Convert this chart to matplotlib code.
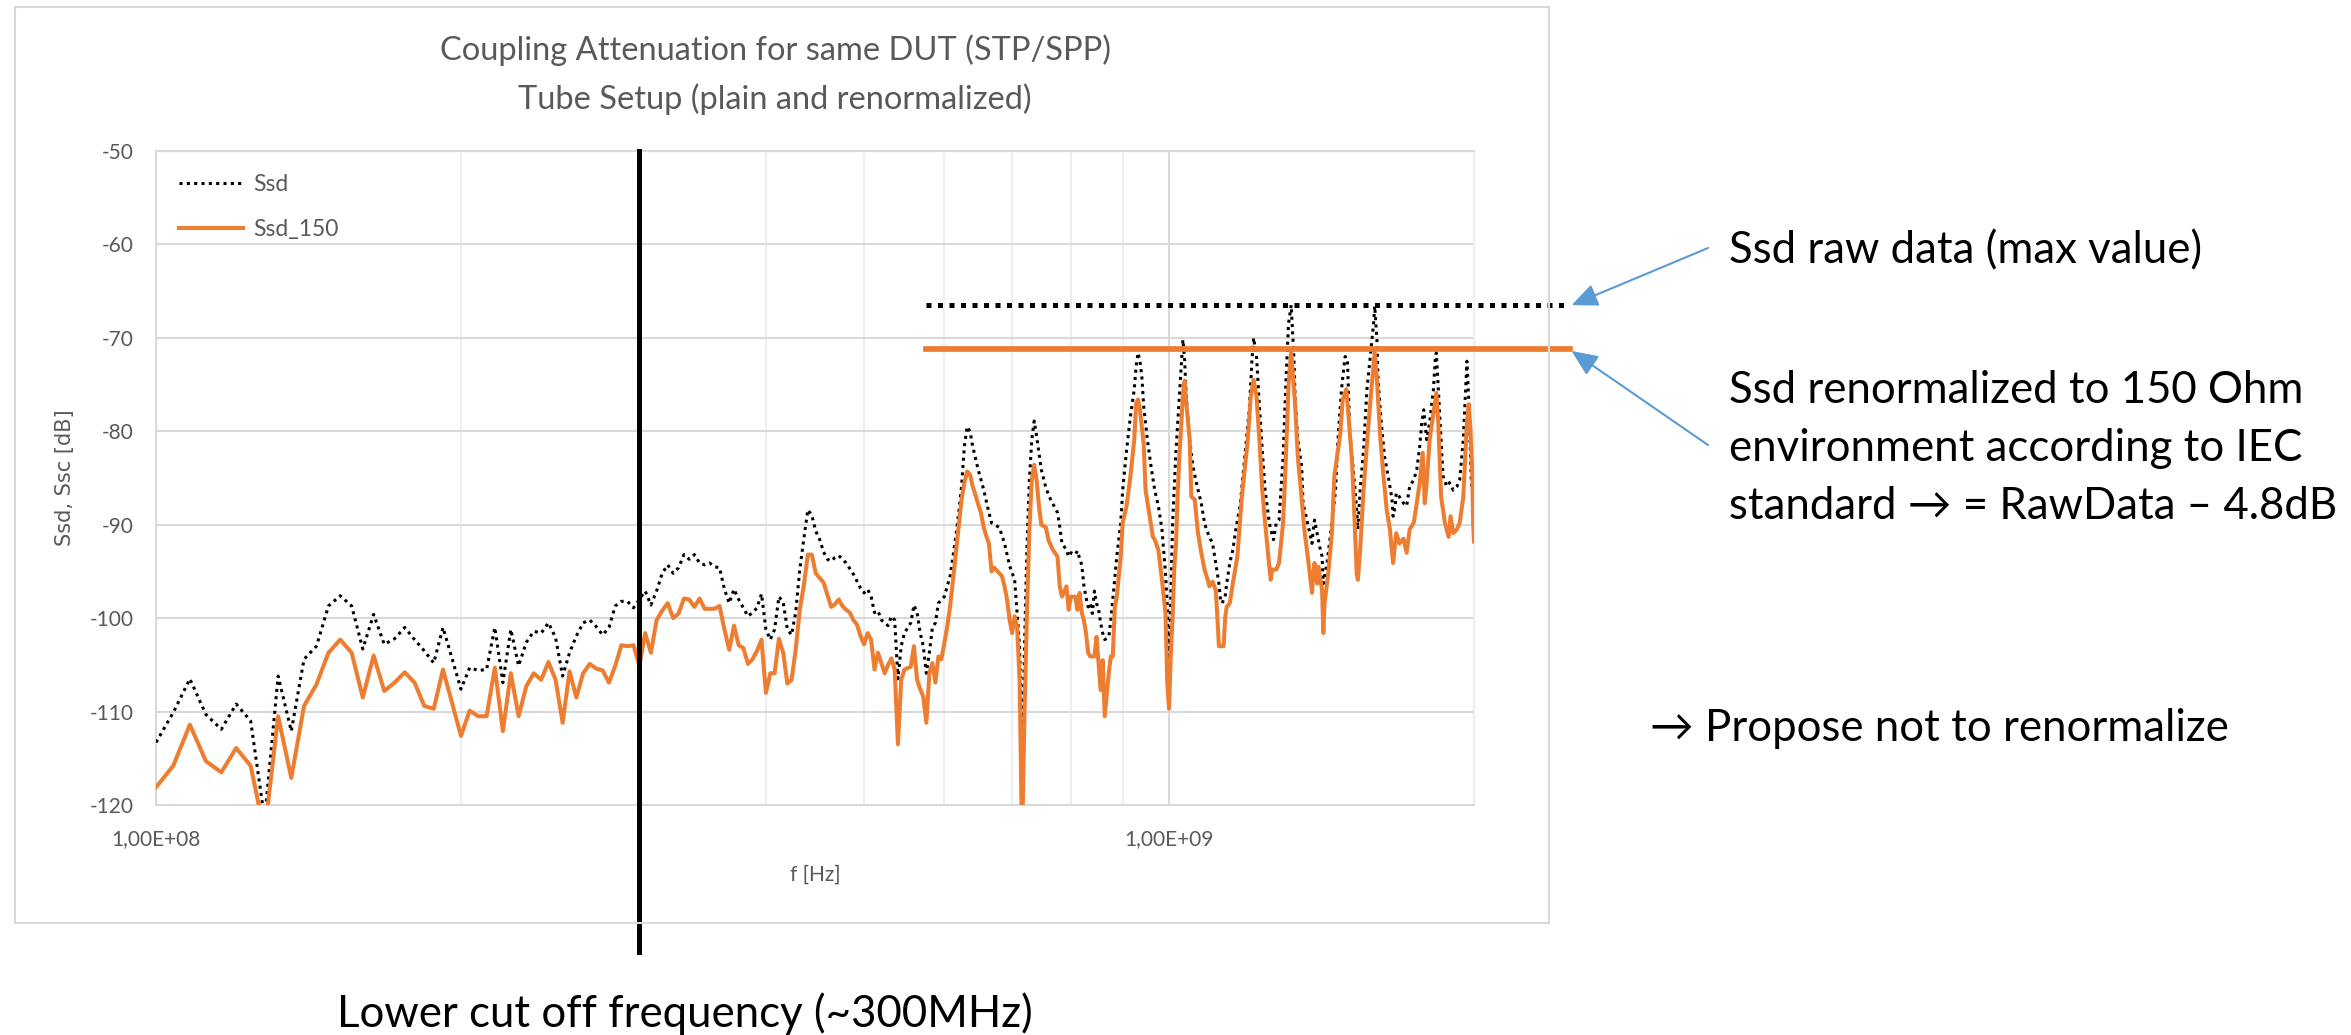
import numpy as np
import matplotlib
matplotlib.use('Agg')
import matplotlib.pyplot as plt
from matplotlib.patches import Rectangle

plt.rcParams['font.family'] = ['Lato', 'DejaVu Sans']
plt.rcParams['axes.unicode_minus'] = False

# частоты в МГц (шаг анализатора 4 МГц), значения в дБ
f_ssd = [100, 104, 108, 112, 116, 120, 124, 128, 132, 136, 140, 144, 148, 152, 156, 160, 164, 168, 172, 176,
         180, 184, 188, 192, 200, 204, 208, 212, 216, 220, 224, 228, 232, 236, 240, 244, 248, 252, 256, 260,
         264, 268, 272, 276, 280, 284, 288, 292, 296, 300, 304, 308, 312, 316, 320, 324, 328, 332, 336, 340,
         344, 348, 352, 356, 360, 364, 368, 372, 376, 380, 384, 388, 392, 396, 400, 404, 408, 412, 416, 420,
         424, 428, 432, 436, 440, 444, 448, 452, 456, 460, 464, 468, 472, 480, 488, 496, 500, 504, 508, 512,
         516, 520, 528, 532, 536, 540, 544, 548, 556, 560, 564, 568, 572, 576, 580, 584, 588, 592, 600, 608,
         612, 616, 620, 624, 628, 632, 636, 640, 648, 656, 664, 668, 680, 688, 696, 704, 708, 712, 716, 720,
         724, 728, 732, 736, 740, 748, 756, 764, 776, 780, 784, 792, 796, 800, 808, 812, 816, 820, 824, 828,
         832, 836, 840, 844, 848, 852, 856, 860, 864, 872, 876, 880, 888, 896, 900, 908, 916, 924, 928, 932,
         936, 940, 944, 952, 960, 968, 976, 984, 992, 996, 1000, 1004, 1008, 1016, 1024, 1032, 1036, 1040, 1048, 1056,
         1064, 1076, 1084, 1088, 1096, 1104, 1112, 1120, 1124, 1128, 1136, 1140, 1148, 1156, 1164, 1176, 1188, 1200, 1208, 1212,
         1220, 1228, 1236, 1244, 1256, 1260, 1268, 1276, 1284, 1296, 1304, 1312, 1320, 1328, 1332, 1340, 1352, 1356, 1368, 1384,
         1388, 1392, 1408, 1416, 1420, 1432, 1448, 1460, 1468, 1480, 1492, 1500, 1508, 1520, 1532, 1536, 1544, 1556, 1568, 1580,
         1592, 1596, 1604, 1608, 1620, 1632, 1648, 1660, 1664, 1672, 1676, 1688, 1704, 1716, 1728, 1744, 1756, 1768, 1776, 1784,
         1796, 1808, 1824, 1832, 1836, 1852, 1864, 1880, 1892, 1908, 1924, 1936, 1952, 1968, 1976, 1988, 2000]
ssd = [-113.3, -110.1, -106.5, -110.3, -111.9, -109.2, -111.0, -121.5, -106.2, -112.1, -104.4, -103.0, -98.7, -97.6, -98.7, -103.3, -99.6, -102.8, -102.2, -101.0,
       -102.3, -103.5, -104.8, -101.0, -107.6, -105.3, -105.6, -105.5, -101.0, -106.9, -101.2, -105.1, -102.6, -101.4, -101.6, -100.5, -102.1, -106.2, -103.7, -101.9,
       -100.5, -100.2, -100.9, -101.8, -101.0, -98.7, -98.2, -98.2, -98.9, -98.0, -97.1, -98.6, -97.1, -95.2, -94.3, -95.2, -94.6, -93.2, -93.7, -93.2,
       -94.1, -94.3, -94.1, -94.5, -94.6, -96.9, -98.4, -96.9, -98.0, -98.9, -99.8, -99.4, -98.9, -97.4, -101.2, -102.3, -101.2, -97.7, -98.3, -101.2,
       -101.8, -99.4, -94.8, -91.5, -88.4, -89.0, -90.7, -91.6, -92.9, -93.7, -93.9, -93.5, -93.3, -94.1, -95.3, -96.8, -97.3, -96.9, -97.7, -99.4,
       -99.2, -100.2, -100.8, -99.8, -100.2, -106.5, -103.0, -101.6, -100.5, -98.6, -99.4, -101.6, -103.0, -105.9, -103.7, -101.0, -100.5, -98.4, -97.7, -95.5,
       -93.4, -91.2, -88.7, -85.9, -81.6, -79.5, -80.0, -81.6, -84.1, -86.2, -88.7, -89.8, -90.3, -92.0, -94.4, -95.9, -99.4, -103.0, -115.0, -103.0,
       -92.3, -85.2, -80.9, -78.9, -80.5, -84.1, -86.1, -87.3, -88.7, -90.2, -92.0, -92.7, -93.4, -93.0, -93.2, -92.8, -93.6, -94.3, -96.5, -97.8,
       -98.8, -98.4, -99.5, -97.1, -98.4, -99.1, -100.5, -101.6, -102.3, -102.0, -100.2, -98.0, -93.4, -89.8, -86.3, -82.0, -78.4, -75.5, -73.0, -71.6,
       -72.5, -74.1, -77.3, -80.9, -83.8, -86.3, -88.0, -90.5, -95.2, -98.8, -106.0, -98.0, -90.0, -82.0, -76.0, -70.2, -72.3, -76.3, -80.9, -83.8,
       -85.5, -87.7, -89.8, -90.4, -91.3, -92.0, -94.1, -96.3, -98.0, -98.4, -97.7, -96.3, -94.1, -92.7, -90.5, -87.7, -82.7, -77.7, -72.0, -70.0,
       -72.0, -77.3, -82.0, -86.3, -89.8, -90.5, -91.6, -89.8, -89.5, -82.7, -75.0, -68.5, -66.5, -72.0, -76.6, -80.9, -83.8, -87.7, -89.5, -92.0,
       -90.5, -89.5, -92.3, -93.4, -96.3, -94.1, -89.8, -86.3, -80.9, -75.5, -72.0, -72.3, -80.2, -84.1, -88.4, -90.5, -86.3, -82.0, -75.5, -72.0,
       -68.4, -66.6, -70.2, -74.5, -79.1, -82.7, -85.2, -87.3, -89.1, -88.0, -86.6, -87.0, -87.7, -88.0, -85.9, -85.2, -84.1, -81.6, -79.1, -77.7,
       -80.9, -79.1, -75.5, -72.0, -71.6, -79.1, -84.8, -85.9, -85.5, -86.3, -85.9, -85.2, -80.9, -72.5, -76.5, -85.5, -87.3]

f_150 = [100, 104, 108, 112, 116, 120, 124, 128, 132, 136, 140, 144, 148, 152, 156, 160, 164, 168, 172, 176,
         180, 184, 188, 192, 200, 204, 208, 212, 216, 220, 224, 228, 232, 236, 240, 244, 248, 252, 256, 260,
         264, 268, 272, 276, 280, 284, 288, 292, 296, 300, 304, 308, 312, 316, 320, 324, 328, 332, 336, 340,
         344, 348, 356, 360, 364, 368, 372, 376, 380, 384, 388, 392, 396, 400, 404, 408, 412, 416, 420, 424,
         428, 432, 436, 440, 444, 448, 452, 456, 460, 464, 468, 472, 476, 480, 484, 488, 492, 496, 500, 504,
         508, 512, 516, 520, 524, 528, 532, 536, 540, 544, 548, 556, 560, 564, 568, 572, 576, 580, 584, 588,
         592, 596, 600, 604, 608, 612, 616, 620, 624, 628, 632, 636, 640, 644, 648, 652, 656, 660, 664, 668,
         672, 680, 684, 688, 692, 696, 700, 704, 708, 712, 716, 720, 724, 728, 732, 736, 740, 744, 748, 756,
         760, 768, 776, 780, 784, 792, 796, 800, 808, 812, 816, 820, 824, 828, 832, 836, 844, 848, 856, 860,
         864, 872, 876, 880, 884, 888, 896, 900, 908, 916, 924, 928, 932, 936, 944, 948, 956, 964, 968, 976,
         984, 992, 996, 1000, 1004, 1008, 1012, 1016, 1020, 1024, 1028, 1032, 1036, 1040, 1048, 1052, 1060, 1068, 1076, 1084,
         1092, 1096, 1104, 1112, 1116, 1120, 1132, 1136, 1140, 1148, 1156, 1168, 1180, 1196, 1204, 1212, 1220, 1228, 1236, 1244,
         1256, 1260, 1264, 1276, 1284, 1296, 1304, 1312, 1320, 1332, 1340, 1352, 1360, 1372, 1384, 1388, 1392, 1400, 1404, 1416,
         1420, 1424, 1436, 1448, 1456, 1476, 1484, 1496, 1504, 1516, 1524, 1532, 1536, 1544, 1556, 1572, 1584, 1596, 1604, 1616,
         1628, 1640, 1652, 1664, 1676, 1688, 1704, 1716, 1728, 1744, 1756, 1768, 1780, 1788, 1796, 1808, 1824, 1836, 1844, 1856,
         1872, 1888, 1896, 1908, 1924, 1936, 1952, 1968, 1976, 1984, 1992, 1996, 2000]
ssd_150 = [-118.1, -115.8, -111.4, -115.3, -116.5, -113.9, -115.8, -123.0, -110.5, -117.1, -109.4, -107.1, -103.7, -102.3, -103.7, -108.5, -104.0, -107.8, -106.9, -105.8,
           -106.9, -109.4, -109.7, -105.5, -112.6, -109.9, -110.5, -110.5, -105.3, -112.1, -105.9, -110.5, -107.3, -105.9, -106.6, -104.7, -106.6, -111.2, -105.7, -108.5,
           -105.9, -104.9, -105.4, -105.6, -106.9, -105.1, -102.9, -103.0, -102.9, -105.1, -101.6, -103.7, -100.2, -99.2, -98.4, -100.0, -99.5, -97.9, -98.0, -98.8,
           -97.9, -99.0, -99.0, -98.7, -101.2, -103.4, -100.8, -102.9, -103.2, -104.9, -104.4, -103.5, -102.3, -108.0, -105.9, -105.9, -102.2, -103.7, -107.0, -106.6,
           -103.4, -99.1, -96.5, -93.2, -93.2, -95.2, -95.7, -96.2, -97.5, -98.8, -98.5, -98.0, -98.7, -99.1, -99.4, -100.2, -100.7, -101.9, -102.8, -101.6,
           -102.3, -105.5, -103.7, -104.8, -105.9, -105.0, -104.3, -105.5, -113.5, -106.6, -105.5, -105.2, -103.0, -106.6, -107.6, -108.4, -111.2, -105.9, -104.8, -106.9,
           -104.1, -104.4, -102.7, -100.9, -98.7, -95.9, -93.0, -90.2, -87.3, -85.5, -84.3, -84.6, -85.9, -86.8, -87.8, -88.7, -90.2, -91.2, -92.0, -95.0,
           -94.6, -95.2, -95.5, -96.6, -98.0, -100.2, -101.6, -99.8, -100.9, -106.6, -124.0, -110.1, -99.4, -90.5, -85.2, -83.6, -85.2, -88.0, -90.0, -90.3,
           -91.6, -92.7, -93.4, -96.6, -97.7, -96.6, -99.1, -97.7, -97.7, -99.1, -97.3, -99.4, -100.2, -101.6, -103.7, -104.1, -104.1, -102.0, -107.7, -104.5,
           -110.5, -105.9, -104.1, -104.1, -98.8, -97.7, -93.4, -89.8, -88.0, -84.8, -80.9, -77.0, -76.6, -77.7, -81.3, -86.3, -88.8, -91.3, -91.6, -92.7,
           -95.9, -99.5, -107.0, -109.7, -104.0, -100.0, -94.5, -92.0, -86.5, -82.5, -79.5, -76.0, -74.6, -77.0, -80.9, -87.0, -87.3, -90.9, -93.0, -94.8,
           -95.9, -96.6, -96.1, -97.0, -99.8, -103.0, -103.0, -100.0, -98.8, -98.4, -96.3, -93.4, -87.0, -80.9, -76.3, -74.5, -76.3, -80.9, -86.3, -89.8,
           -94.5, -95.9, -94.8, -94.8, -94.1, -89.8, -83.0, -75.0, -71.4, -77.3, -82.7, -87.3, -90.5, -93.8, -97.3, -95.2, -94.1, -96.3, -94.5, -97.0,
           -101.6, -98.4, -95.2, -90.9, -84.8, -80.2, -76.6, -75.5, -78.4, -83.4, -89.1, -95.2, -95.9, -92.7, -86.3, -79.8, -75.5, -71.6, -74.5, -80.5,
           -84.8, -88.4, -90.5, -94.1, -90.9, -92.0, -91.5, -93.0, -90.5, -89.8, -87.7, -85.5, -82.3, -87.7, -85.5, -80.9, -78.0, -75.9, -79.1, -87.0,
           -89.8, -91.3, -89.1, -90.9, -90.5, -89.8, -87.0, -79.1, -77.1, -79.8, -84.5, -89.8, -91.8]

max_ssd = -66.5      # уровень "max value" для сырых данных
max_150 = -71.2      # то же после перенормировки
cutoff = 300e6       # нижняя граничная частота

y_ticks = [-120, -110, -100, -90, -80, -70, -60, -50]
x_ticks = [1e8, 1e9]
x_labels = ['1,00E+08', '1,00E+09']

W, H = 2351, 1035
fig = plt.figure(figsize=(W / 100, H / 100), dpi=100)
ax = fig.add_axes([156 / W, 1 - 805 / H, 1318 / W, 654 / H])

gray = '#595959'
orange = '#ED7D31'

ax.plot(np.array(f_ssd) * 1e6, ssd, color='black', lw=2.2, ls=(0, (1, 1.4)), label='Ssd', zorder=3)
ax.plot(np.array(f_150) * 1e6, ssd_150, color=orange, lw=2.9, label='Ssd_150', zorder=4)

ax.set_xscale('log')
ax.set_xlim(1e8, 2e9)
ax.set_ylim(-120, -50)
ax.set_yticks(y_ticks)
ax.set_xticks(x_ticks, x_labels)
ax.set_xticks([k * 1e8 for k in range(2, 10)] + [2e9], minor=True)
ax.xaxis.set_minor_formatter(plt.NullFormatter())
ax.tick_params(which='both', length=0, labelsize=15, labelcolor=gray)
ax.tick_params(axis='y', pad=16)
ax.tick_params(axis='x', pad=17)
ax.grid(which='major', color='#D9D9D9', lw=1.5)
ax.grid(which='minor', axis='x', color='#EFEFEF', lw=1.5)
ax.set_axisbelow(True)
for s in ['left', 'bottom', 'top']:
    ax.spines[s].set_color('#D9D9D9')
    ax.spines[s].set_linewidth(1.5)
ax.spines['right'].set_color('#EFEFEF')
ax.spines['right'].set_linewidth(1.5)

ax.set_xlabel('f [Hz]', fontsize=15, color=gray, va='center')
ax.xaxis.set_label_coords(0.5, -(875 - 805) / 654)
ax.set_ylabel('Ssd, Ssc [dB]', fontsize=15, color=gray, family='DejaVu Sans', va='center')
ax.yaxis.set_label_coords(-(156 - 65) / 1318, 0.5)

ax.legend(loc='upper left', frameon=False, fontsize=16.5, labelcolor=gray, handlelength=2.8,
          handletextpad=0.45, labelspacing=1.05, borderaxespad=0.7, borderpad=0.3)

# пометки поверх графика
tr = ax.get_yaxis_transform()
ax.plot([0.584, 1.073], [max_ssd, max_ssd], transform=tr, color='black', lw=3.6,
        ls=(0, (1, 1.3)), clip_on=False, zorder=5)
ax.plot([0.584, 1.073], [max_150, max_150], transform=tr, color=orange, lw=4.1,
        clip_on=False, zorder=5)
ax.axvline(cutoff, ymin=-0.225, ymax=1, color='black', lw=3.6, clip_on=False, zorder=6)

arr = dict(arrowstyle='-|>,head_length=0.8,head_width=0.35', color='#5B9BD5', lw=1.5,
           shrinkA=0, shrinkB=0, mutation_scale=20)
ax.annotate('', xy=(1.074, max_ssd), xycoords=tr, xytext=(1708 / W, 1 - 248 / H),
            textcoords='figure fraction', arrowprops=arr)
ax.annotate('', xy=(1.074, max_150 - 0.2), xycoords=tr, xytext=(1708 / W, 1 - 445 / H),
            textcoords='figure fraction', arrowprops=arr)

big = 31.5
fig.text(1729 / W, 1 - 263 / H, 'Ssd raw data (max value)', va='baseline', fontsize=big)
lines = ['Ssd renormalized to 150 Ohm', 'environment according to IEC', 'standard \u2192 = RawData \u2013 4.8dB']
for i, s in enumerate(lines):
    fig.text(1729 / W, 1 - (403 + 58 * i) / H, s, va='baseline', fontsize=big)
fig.text(1650 / W, 1 - 741 / H, '\u2192 Propose not to renormalize', va='baseline', fontsize=big)
fig.text(337 / W, 1 - 1027 / H, 'Lower cut off frequency (~300MHz)', va='baseline', fontsize=big)

fig.text(775 / W, 1 - 60 / H, 'Coupling Attenuation for same DUT (STP/SPP)', ha='center', va='baseline',
         fontsize=23.5, color=gray)
fig.text(775 / W, 1 - 109 / H, 'Tube Setup (plain and renormalized)', ha='center', va='baseline',
         fontsize=23.5, color=gray)

fig.add_artist(Rectangle((15 / W, 1 - 923 / H), 1534 / W, 916 / H, transform=fig.transFigure,
                         fill=False, ec='#D9D9D9', lw=1.5))

fig.savefig('out.png', dpi=100)
